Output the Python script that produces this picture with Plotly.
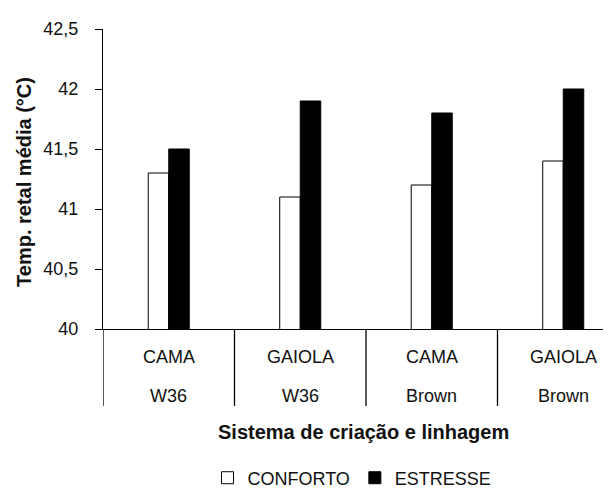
import plotly.graph_objects as go

sistema = ["CAMA", "GAIOLA", "CAMA", "GAIOLA"]
linhagem = ["W36", "W36", "Brown", "Brown"]
conforto = [41.3, 41.1, 41.2, 41.4]
estresse = [41.5, 41.9, 41.8, 42.0]
y_ticks = [40, 40.5, 41, 41.5, 42, 42.5]

FONT = "Liberation Sans, Arial, sans-serif"
FS = 18
FT = 20
W, H = 611, 489
L, T, B = 95, 21, 160
xpos = list(range(len(sistema)))
ph = H - T - B
pw = W - L

fig = go.Figure()
fig.add_trace(go.Bar(x=xpos, y=conforto, name="CONFORTO",
                     marker=dict(color="white", line=dict(color="black", width=1))))
fig.add_trace(go.Bar(x=xpos, y=estresse, name="ESTRESSE",
                     marker=dict(color="black", line=dict(color="black", width=1))))

# category separators and two-level category labels
for i in range(len(sistema)):
    fig.add_shape(type="line", xref="x", yref="paper", x0=i - 0.5, x1=i - 0.5,
                  y0=0, y1=-79 / ph, line=dict(color="black", width=1.3))
    fig.add_annotation(x=i, y=0, xref="x", yref="paper", yshift=-28, yanchor="middle",
                       text=sistema[i], showarrow=False, font=dict(size=FS, color="#111"))
    fig.add_annotation(x=i, y=0, xref="x", yref="paper", yshift=-67, yanchor="middle",
                       text=linhagem[i], showarrow=False, font=dict(size=FS, color="#111"))

fig.add_annotation(x=(16 - L) / pw, y=(329 - 178) / ph, xref="paper", yref="paper",
                   xanchor="center", yanchor="middle", textangle=-90,
                   text="<b>Temp. retal média (°C)</b>", showarrow=False,
                   font=dict(size=FT, color="#111"))
fig.add_annotation(x=(355 - L) / pw, y=0, xref="paper", yref="paper", yshift=-103,
                   xanchor="center", yanchor="middle",
                   text="<b>Sistema de criação e linhagem</b>", showarrow=False,
                   font=dict(size=FT, color="#111"))

fig.update_layout(
    width=W, height=H,
    margin=dict(l=L, r=0, t=T, b=B),
    paper_bgcolor="white", plot_bgcolor="white",
    separators=",.",
    font=dict(family=FONT, size=FS, color="#111"),
    barmode="group", bargap=0.688, bargroupgap=0,
    showlegend=True,
    legend=dict(orientation="h", x=(344 - L) / pw, xanchor="center", y=-153 / ph,
                yanchor="middle", itemwidth=30, font=dict(size=FS),
                traceorder="normal"),
    xaxis=dict(range=[-0.5, 3.424], showline=True, linecolor="black", linewidth=1.3,
               showticklabels=False, ticks="", showgrid=False, zeroline=False),
    yaxis=dict(range=[40, 42.5], tickvals=y_ticks, showline=True, linecolor="black",
               linewidth=1.3, ticks="outside", ticklen=7, tickcolor="black",
               showgrid=False, zeroline=False, ticklabelstandoff=13),
)

fig.write_html("out.html")
